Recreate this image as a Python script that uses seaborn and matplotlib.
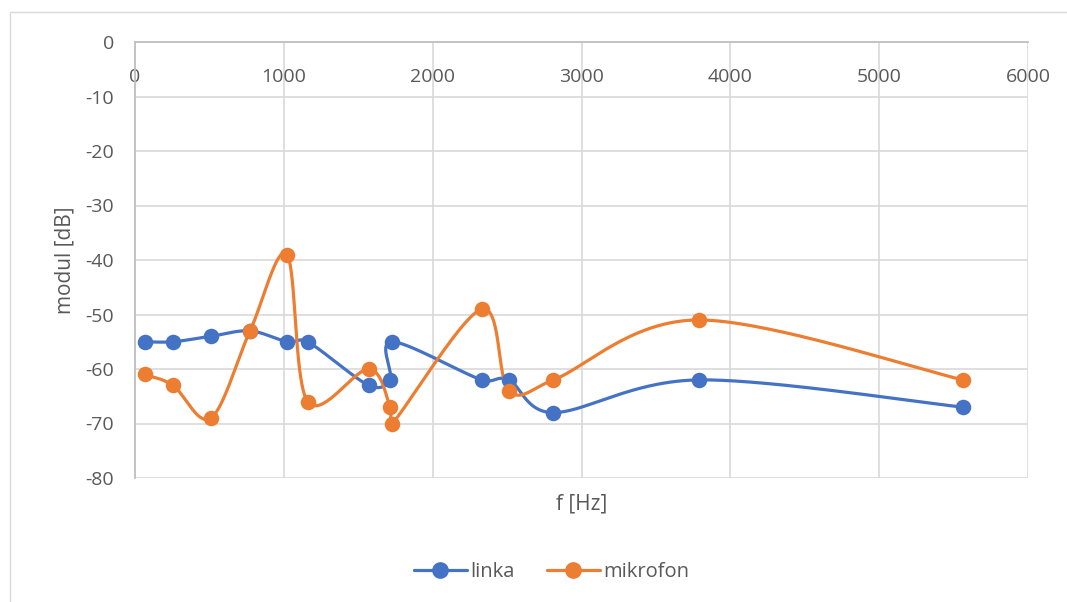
import numpy as np
import pandas as pd
import matplotlib
matplotlib.use("Agg")
import matplotlib.pyplot as plt
import seaborn as sns
from matplotlib.lines import Line2D
from matplotlib.patches import Rectangle

# ---- data ----
freq = [65, 255, 510, 773, 1020, 1160, 1570, 1714, 1728, 2330, 2512, 2811, 3790, 5563]
linka = [-55, -55, -54, -53, -55, -55, -63, -62, -55, -62, -62, -68, -62, -67]
mikrofon = [-61, -63, -69, -53, -39, -66, -60, -67, -70, -49, -64, -62, -51, -62]
x_ticks = [0, 1000, 2000, 3000, 4000, 5000, 6000]
y_ticks = [0, -10, -20, -30, -40, -50, -60, -70, -80]
series_names = ["linka", "mikrofon"]
colors = ["#4472C4", "#ED7D31"]


def smooth(ax, xs, ys, n=60):
    """Excel-like smoothed line: Bezier segments (Catmull-Rom tangents,
    arms limited to half the segment length), computed in display space."""
    P = ax.transData.transform(np.column_stack([xs, ys]).astype(float))
    out = [P[0]]
    m = len(P)
    for i in range(m - 1):
        p0 = P[i - 1] if i > 0 else P[i]
        p1 = P[i]
        p2 = P[i + 1]
        p3 = P[i + 2] if i + 2 < m else P[i + 1]
        d12 = np.linalg.norm(p2 - p1)
        a1 = (p2 - p0) / 6.0
        a2 = (p3 - p1) / 6.0
        for a in (a1, a2):
            la = np.linalg.norm(a)
            if la > d12 / 2 and la > 0:
                a *= (d12 / 2) / la
        c1 = p1 + a1
        c2 = p2 - a2
        t = np.linspace(0, 1, n)[1:, None]
        seg = ((1 - t) ** 3) * p1 + 3 * ((1 - t) ** 2) * t * c1 + 3 * (1 - t) * t ** 2 * c2 + t ** 3 * p2
        out.extend(seg)
    out = ax.transData.inverted().transform(np.array(out))
    return out[:, 0], out[:, 1]


sns.set_theme(style="white")
plt.rcParams["font.family"] = ["Open Sans", "DejaVu Sans"]

fig = plt.figure(figsize=(10.67, 6.02), dpi=100)
ax = fig.add_axes([135 / 1067, 1 - 478 / 602, (1028 - 135) / 1067, (478 - 42) / 602])

# chart border
fig.patches.append(Rectangle((10 / 1067, -0.01), 1.0, 1 - 12 / 602 + 0.01, transform=fig.transFigure,
                             fill=False, edgecolor="#d9d9d9", linewidth=1.0, zorder=0))

ax.set_xlim(0, 6000)
ax.set_ylim(-80, 0)

for name, vals, col in zip(series_names, [linka, mikrofon], colors):
    sx, sy = smooth(ax, freq, vals)
    curve = pd.DataFrame({"x": sx, "y": sy})
    sns.lineplot(data=curve, x="x", y="y", sort=False, estimator=None, ax=ax,
                 color=col, linewidth=2.3, zorder=3)
    pts = pd.DataFrame({"f": freq, "v": vals})
    sns.scatterplot(data=pts, x="f", y="v", ax=ax, color=col, s=125,
                    edgecolor=col, linewidth=0, zorder=4)

ax.set_xlim(0, 6000)
ax.set_ylim(-80, 0)
ax.set_xticks(x_ticks)
ax.set_yticks(y_ticks)
ax.set_xticklabels([str(t) for t in x_ticks])
ax.set_yticklabels([str(t) for t in y_ticks])
ax.grid(True, color="#d9d9d9", linewidth=1.2)
ax.set_axisbelow(True)

for s in ["right", "bottom"]:
    ax.spines[s].set_visible(False)
ax.spines["top"].set_color("#bfbfbf")
ax.spines["left"].set_color("#bfbfbf")
ax.spines["top"].set_linewidth(1.3)
ax.spines["left"].set_linewidth(1.3)

ax.tick_params(axis="x", bottom=False, top=False, labelbottom=False, labeltop=True,
               length=0, pad=-32, labelsize=14, labelcolor="#595959")
ax.tick_params(axis="y", left=False, right=False, length=0, pad=15,
               labelsize=14, labelcolor="#595959")

ax.set_xlabel("f [Hz]", fontsize=15, color="#595959", labelpad=11)
ax.set_ylabel("modul [dB]", fontsize=15, color="#595959", labelpad=7)

handles = [Line2D([0], [0], color=c, linewidth=2.3, marker="o", markersize=11)
           for c in colors]
fig.legend(handles, series_names, loc="center", bbox_to_anchor=(552 / 1067, 1 - 572 / 602),
           ncol=2, frameon=False, fontsize=14.5, labelcolor="#595959",
           handlelength=2.6, columnspacing=1.6, handletextpad=0.2)

fig.savefig("out.png", dpi=100)
